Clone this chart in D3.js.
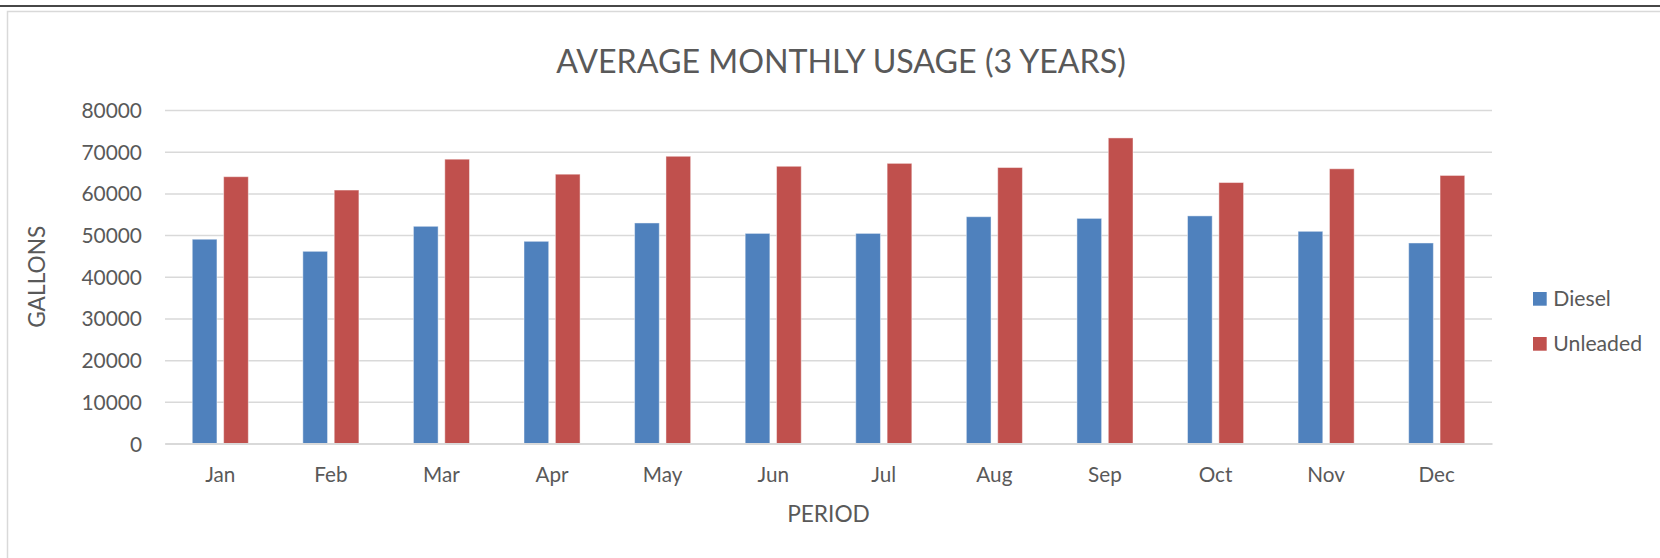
<!DOCTYPE html>
<html>
<head>
<meta charset="utf-8">
<script src="https://cdn.jsdelivr.net/npm/d3@7"></script>
<style>
  html, body { margin: 0; background: #fff; overflow: hidden; }
  svg { display: block; }
  text { font-family: Lato, "Open Sans", sans-serif; fill: #595959; }
</style>
</head>
<body>
<script>
const width = 1660, height = 558;

// data
const months = ["Jan","Feb","Mar","Apr","May","Jun","Jul","Aug","Sep","Oct","Nov","Dec"];
const seriesNames = ["Diesel","Unleaded"];
const diesel   = [49000, 46100, 52100, 48500, 52900, 50400, 50400, 54400, 54000, 54600, 50900, 48100];
const unleaded = [64000, 60800, 68200, 64600, 68900, 66500, 67200, 66200, 73300, 62600, 65900, 64300];
const yTicks = [0, 10000, 20000, 30000, 40000, 50000, 60000, 70000, 80000];
const colors = ["#4F81BD", "#C0504D"];

const rows = months.map((m, i) => ({month: m, Diesel: diesel[i], Unleaded: unleaded[i]}));

const margin = {top: 110, right: 168, bottom: 114.5, left: 165};

const svg = d3.select("body").append("svg")
    .attr("width", width)
    .attr("height", height);

// dark strip at the very top
svg.append("line")
    .attr("x1", 0).attr("x2", width)
    .attr("y1", 6).attr("y2", 6)
    .attr("stroke", "#474747")
    .attr("stroke-width", 2);

// chart frame: only top and left edges are inside the picture
svg.append("path")
    .attr("d", `M${width},11.5H7.5V${height}`)
    .attr("fill", "none")
    .attr("stroke", "#d9d9d9")
    .attr("stroke-width", 1.5);

const x0 = d3.scaleBand()
    .domain(months)
    .range([margin.left, width - margin.right])
    .paddingInner(0.493)
    .paddingOuter(0.2465);

const x1 = d3.scaleBand()
    .domain(seriesNames)
    .range([0, x0.bandwidth()])
    .paddingInner(0.213);

const y = d3.scaleLinear()
    .domain([0, 80000])
    .range([height - margin.bottom, margin.top]);

const color = d3.scaleOrdinal().domain(seriesNames).range(colors);

// y axis with gridlines
const yAxis = svg.append("g")
    .attr("transform", `translate(${margin.left},0)`)
    .call(d3.axisLeft(y)
      .tickValues(yTicks)
      .tickFormat(d3.format("d"))
      .tickSize(-(width - margin.left - margin.right))
      .tickPadding(23));

yAxis.select(".domain").remove();
yAxis.selectAll(".tick line")
    .attr("stroke", "#d9d9d9")
    .attr("stroke-width", 1.5);
yAxis.selectAll(".tick text")
    .attr("font-size", 20.9)
    .attr("dy", "0.36em")
    .style("font-family", "Lato, sans-serif")
    .attr("fill", "#595959");

// bars
svg.append("g")
  .selectAll("g")
  .data(rows)
  .join("g")
    .attr("transform", d => `translate(${x0(d.month)},0)`)
  .selectAll("rect")
  .data(d => seriesNames.map(k => ({key: k, value: d[k]})))
  .join("rect")
    .attr("x", d => x1(d.key))
    .attr("y", d => y(d.value))
    .attr("width", x1.bandwidth())
    .attr("height", d => y(0) - y(d.value))
    .attr("fill", d => color(d.key))
    .attr("stroke", "#fff")
    .attr("stroke-opacity", 0.45)
    .attr("stroke-width", 1);

// x axis
const xAxis = svg.append("g")
    .attr("transform", `translate(0,${y(0)})`)
    .call(d3.axisBottom(x0).tickSize(0));

xAxis.select(".domain")
    .attr("stroke", "#d9d9d9")
    .attr("stroke-width", 2);
xAxis.selectAll(".tick text")
    .attr("font-size", 20.7)
    .attr("dy", null)
    .attr("y", 38.2)
    .style("font-family", "Lato, sans-serif")
    .attr("fill", "#595959");

// titles
svg.append("text")
    .attr("x", 841)
    .attr("y", 73)
    .attr("text-anchor", "middle")
    .attr("font-size", 32.2)
    .text("AVERAGE MONTHLY USAGE (3 YEARS)");

svg.append("text")
    .attr("x", (margin.left + width - margin.right) / 2)
    .attr("y", 521.7)
    .attr("text-anchor", "middle")
    .attr("font-size", 22.7)
    .text("PERIOD");

svg.append("text")
    .attr("transform", `translate(45,${(y(0) + y(80000)) / 2}) rotate(-90)`)
    .attr("text-anchor", "middle")
    .attr("font-size", 22.7)
    .text("GALLONS");

// legend
const legend = svg.append("g")
    .attr("transform", "translate(1533,292)")
  .selectAll("g")
  .data(seriesNames)
  .join("g")
    .attr("transform", (d, i) => `translate(0,${i * 45})`);

legend.append("rect")
    .attr("width", 13.7)
    .attr("height", 13.7)
    .attr("fill", d => color(d));

legend.append("text")
    .attr("x", 20.3)
    .attr("y", 13.7)
    .attr("font-size", 21.2)
    .text(d => d);
</script>
</body>
</html>
